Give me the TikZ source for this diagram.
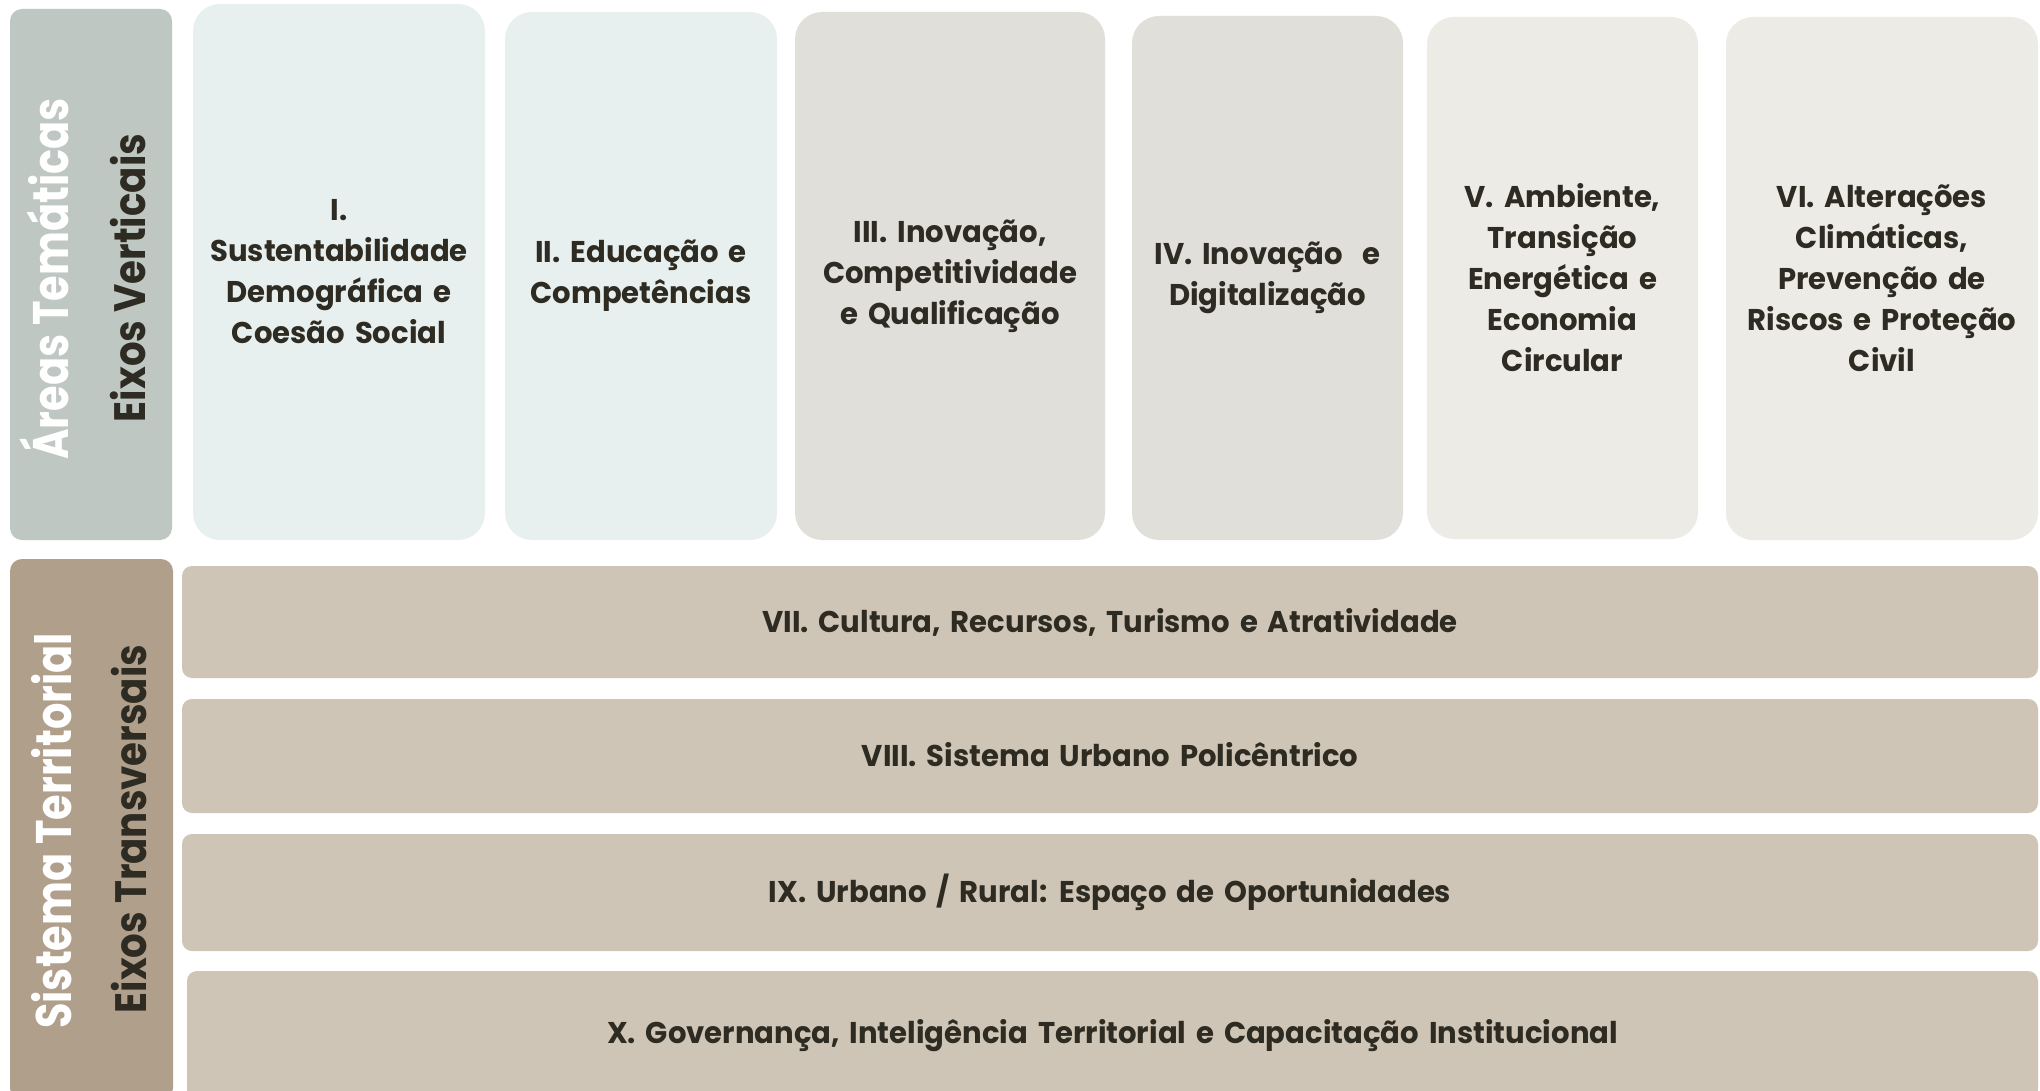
\documentclass[tikz,border=0pt]{standalone}
\usepackage{fontspec}
\setmainfont{Poppins}[FakeStretch=0.97,WordSpace=1.6]
\newfontfamily\whitelab{Poppins}[FakeStretch=0.83]
\newfontfamily\darklab{Poppins}[FakeStretch=0.88]
\definecolor{sidetop}{HTML}{BFC7C3}
\definecolor{sidebot}{HTML}{B09F8A}
\definecolor{cblue}{HTML}{E8F0EF}
\definecolor{cgray}{HTML}{E0DFDA}
\definecolor{clight}{HTML}{ECEBE5}
\definecolor{barc}{HTML}{CFC5B6}
\definecolor{txt}{HTML}{2E2B22}
\begin{document}
\begin{tikzpicture}[x=0.5pt,y=-0.5pt,
  every node/.style={inner sep=0pt,outer sep=0pt},
  colbox/.style={rounded corners=13.5pt,align=center,text=txt,
    font=\bfseries\fontsize{15}{20.5}\selectfont},
  sidebox/.style={rounded corners=6pt},
  barbox/.style={rounded corners=5pt,fill=barc,text=txt,
    font=\bfseries\fontsize{15}{20.5}\selectfont},
  vlabel/.style={rotate=90,anchor=base,font=\whitelab\bfseries\fontsize{25}{25}\selectfont},
  vlabelb/.style={rotate=90,anchor=base,font=\darklab\bfseries\fontsize{22}{22}\selectfont}]
\fill[white] (0,0) rectangle (2040,1091);
\useasboundingbox (0,0) rectangle (2040,1091);
\clip (0,0) rectangle (2040,1091);
% side boxes
\node[sidebox,fill=sidetop,minimum width=81pt,minimum height=265.5pt] (l1) at (91,274.5) {};
\node[sidebox,fill=sidebot,minimum width=81.5pt,minimum height=270.5pt] (l2) at (91.5,829.5) {};
\node[vlabel,text=white] (a1) at (68,279) {Áreas Temáticas};
\node[vlabelb,text=txt] (a2) at (145,278) {Eixos Verticais};
\node[vlabel,text=white] (a3) at (71,831) {Sistema Territorial};
\node[vlabelb,text=txt] (a4) at (146,829) {Eixos Transversais};
% vertical axes
\node[colbox,fill=cblue,minimum width=146pt,minimum height=268pt] (b1) at (339,272)
  {I.\\Sustentabilidade\\Demográfica e\\Coesão Social};
\node[colbox,fill=cblue,minimum width=136pt,minimum height=264pt] (b2) at (641,276)
  {II. Educação e\\Competências};
\node[colbox,fill=cgray,minimum width=155pt,minimum height=264pt] (b3) at (950,276)
  {III. Inovação,\\Competitividade\\e Qualificação};
\node[colbox,fill=cgray,minimum width=135.5pt,minimum height=262pt] (b4) at (1267.5,278)
  {IV. Inovação~ e\\Digitalização};
\node[colbox,fill=clight,minimum width=135.5pt,minimum height=261pt] (b5) at (1562.5,278)
  {V. Ambiente,\\Transição\\Energética e\\Economia\\Circular};
\node[colbox,fill=clight,minimum width=156pt,minimum height=261.5pt] (b6) at (1882,278.5)
  {VI. Alterações\\Climáticas,\\Prevenção de\\Riscos e Proteção\\Civil};
% transversal axes
\node[barbox,minimum width=928pt,minimum height=56pt] (t7) at (1110,622)
  {VII. Cultura, Recursos, Turismo e Atratividade};
\node[barbox,minimum width=928pt,minimum height=57pt] (t8) at (1110,756)
  {\raisebox{2pt}{VIII. Sistema Urbano Policêntrico}};
\node[barbox,minimum width=928pt,minimum height=58.5pt] (t9) at (1110,892.5)
  {IX. Urbano / Rural: Espaço de Oportunidades};
\node[barbox,minimum width=925.5pt,minimum height=64.5pt] (t10) at (1112.5,1035.5)
  {X. Governança, Inteligência Territorial e Capacitação Institucional};
\end{tikzpicture}
\end{document}
